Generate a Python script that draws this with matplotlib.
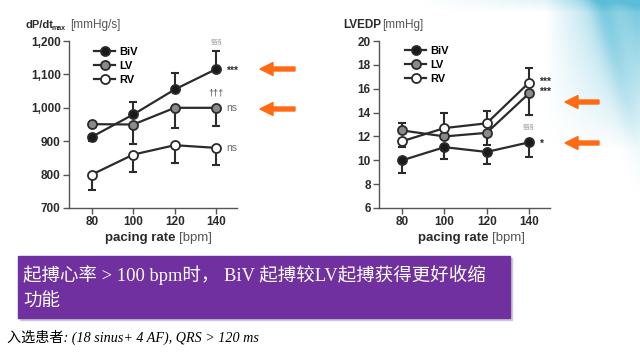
import numpy as np
import matplotlib.pyplot as plt
from matplotlib.patches import FancyArrow, Rectangle

# pacing rates
rates = [80, 100, 120, 140]

# dP/dt max [mmHg/s]
dpdt_biv = [913, 980, 1055, 1116]
dpdt_biv_lo = [12, 0, 0, 0]
dpdt_biv_hi = [0, 36, 50, 54]
dpdt_lv = [951, 950, 1000, 1000]
dpdt_lv_lo = [0, 58, 60, 55]
dpdt_lv_hi = [0, 0, 0, 0]
dpdt_rv = [800, 860, 888, 880]
dpdt_rv_lo = [47, 53, 53, 50]
dpdt_rv_hi = [0, 0, 0, 0]

# LVEDP [mmHg]
edp_biv = [10.0, 11.1, 10.7, 11.5]
edp_biv_lo = [1.1, 1.0, 1.0, 1.2]
edp_biv_hi = [0, 0, 0, 0]
edp_lv = [12.5, 12.0, 12.3, 15.6]
edp_lv_lo = [0, 0, 1.0, 1.8]
edp_lv_hi = [0.6, 0, 0, 0]
edp_rv = [11.6, 12.7, 13.1, 16.5]
edp_rv_lo = [0.5, 0, 0, 0]
edp_rv_hi = [0, 1.3, 1.0, 1.2]

dpdt_ticks = [700, 800, 900, 1000, 1100, 1200]
dpdt_ticklabels = ['700', '800', '900', '1,000', '1,100', '1,200']
edp_ticks = [6, 8, 10, 12, 14, 16, 18, 20]

W, H = 640, 363
fig = plt.figure(figsize=(6.4, 3.63), dpi=100)
fig.patch.set_facecolor('white')

# slide background swoosh (top right)
bg = fig.add_axes([0, 0, 1, 1], zorder=-5)
xx, yy = np.meshgrid(np.arange(W), np.arange(H))
a = np.clip((xx - 545) / 90, 0, 1) * np.clip((150 - yy) / 150, 0, 1)
a = a + 0.35 * np.clip((xx - 420) / 220, 0, 1) * np.clip((12 - yy) / 12, 0, 1)
band = 0.25 * np.exp(-((xx - 600 - 0.25 * yy) / 12.0) ** 2) * np.clip((200 - yy) / 200, 0, 1)
a = np.clip(a * 0.75 + band, 0, 0.85)
img = np.zeros((H, W, 4))
img[..., 0] = 0.25
img[..., 1] = 0.70
img[..., 2] = 0.82
img[..., 3] = a
bg.imshow(img, aspect='auto', extent=[0, W, H, 0])
bg.set_xlim(0, W)
bg.set_ylim(H, 0)
bg.axis('off')

FONT = 'Liberation Sans'
DARK = '#2b2b2b'
GREY = '#6a6a6a'


def px(x, y):
    return x / W, 1 - y / H


def draw_panel(rect, series, ylim, yticks, yticklabels):
    ax = fig.add_axes(rect)
    ax.set_facecolor('none')
    for (vals, lo, hi, face, label) in series:
        ax.errorbar(rates, vals, yerr=[lo, hi], fmt='none', ecolor=DARK,
                    elinewidth=1.5, capsize=3.2, capthick=1.5, zorder=2)
        ax.plot(rates, vals, '-o', color=DARK, lw=1.6, ms=6.5,
                mfc=face, mec=DARK, mew=1.3, label=label, zorder=3)
    ax.set_xlim(69, 150)
    ax.set_ylim(*ylim)
    ax.set_xticks(rates)
    ax.set_yticks(yticks)
    ax.set_yticklabels(yticklabels)
    for s in ['top', 'right']:
        ax.spines[s].set_visible(False)
    for s in ['left', 'bottom']:
        ax.spines[s].set_color('#555555')
        ax.spines[s].set_linewidth(1.0)
    ax.tick_params(length=4, width=1.0, color='#555555', labelsize=8.5,
                   labelcolor=DARK, pad=2)
    for t in ax.get_xticklabels() + ax.get_yticklabels():
        t.set_fontweight('bold')
        t.set_family(FONT)
    return ax


ax1 = draw_panel([69 / W, 1 - 208 / H, 168 / W, 167 / H],
                 [(dpdt_biv, dpdt_biv_lo, dpdt_biv_hi, '#1a1a1a', 'BiV'),
                  (dpdt_lv, dpdt_lv_lo, dpdt_lv_hi, '#8a8a8a', 'LV'),
                  (dpdt_rv, dpdt_rv_lo, dpdt_rv_hi, 'white', 'RV')],
                 (700, 1200), dpdt_ticks, dpdt_ticklabels)
ax2 = draw_panel([379 / W, 1 - 208 / H, 171 / W, 167 / H],
                 [(edp_biv, edp_biv_lo, edp_biv_hi, '#1a1a1a', 'BiV'),
                  (edp_lv, edp_lv_lo, edp_lv_hi, '#8a8a8a', 'LV'),
                  (edp_rv, edp_rv_lo, edp_rv_hi, 'white', 'RV')],
                 (6, 20), edp_ticks, [str(t) for t in edp_ticks])

for ax, (lx, ly) in [(ax1, (94, 47)), (ax2, (405, 46))]:
    ax.legend(loc='upper left', bbox_to_anchor=px(lx, ly),
              bbox_transform=fig.transFigure, frameon=False,
              prop={'family': FONT, 'weight': 'bold', 'size': 8},
              handlelength=1.9, handletextpad=0.35, labelspacing=0.35,
              borderpad=0, borderaxespad=0)


def mark(ax, x, y, s, dx, dy, size=7, color=DARK, weight='bold'):
    ax.annotate(s, (x, y), xytext=(dx, dy), textcoords='offset points',
                ha='left' if dx > 0 else 'center', va='center',
                fontsize=size, color=color, fontweight=weight, family=FONT)


mark(ax1, 140, dpdt_biv[3], '***', 7, -1, size=7.5)
mark(ax1, 140, dpdt_biv[3] + dpdt_biv_hi[3], '§§§', 0, 7, size=5, color='#888888', weight='normal')
mark(ax1, 140, dpdt_lv[3], 'ns', 7, 0, size=7.5, color=GREY, weight='normal')
mark(ax1, 140, dpdt_lv[3], '†††', 0, 11, size=6.5, color='#444444', weight='normal')
mark(ax1, 140, dpdt_rv[3], 'ns', 7, 0, size=7.5, color=GREY, weight='normal')
mark(ax2, 140, edp_rv[3], '***', 7, 1, size=7.5)
mark(ax2, 140, edp_lv[3], '***', 7, 1, size=7.5)
mark(ax2, 140, edp_biv[3], '§§§', 0, 11, size=5, color='#888888', weight='normal')
mark(ax2, 140, edp_biv[3], '*', 7, -1, size=7.5)

# axis titles
fig.text(*px(25, 25), 'dP/dt', fontsize=8, color=DARK, va='center',
         ha='left', family=FONT, fontweight='bold')
fig.text(*px(52, 28), 'max', fontsize=5, color=DARK, va='center', ha='left',
         family=FONT, fontweight='bold')
fig.text(*px(70, 25), '[mmHg/s]', fontsize=8.5, color='#555555', va='center',
         ha='left', family=FONT)
fig.text(*px(343, 25), 'LVEDP', fontsize=8.5, color=DARK, va='center',
         ha='left', family=FONT, fontweight='bold')
fig.text(*px(382, 25), '[mmHg]', fontsize=8.5, color='#555555', va='center',
         ha='left', family=FONT)
for x0 in [105, 418]:
    t = fig.text(*px(x0, 238), 'pacing rate', fontsize=9.5, color=DARK,
                 va='center', ha='left', family=FONT, fontweight='bold')
    fig.add_artist(plt.Annotation('[bpm]', xy=(1, 0.5), xycoords=t,
                                  xytext=(2.5, 0), textcoords='offset points',
                                  va='center', ha='left', fontsize=9.5,
                                  color='#555555', family=FONT))

# orange arrows
for (xa, xb, y) in [(295, 260, 69), (295, 260, 109), (599, 565, 102), (599, 565, 143)]:
    x0, y0 = px(xa, y)
    x1, _ = px(xb, y)
    fig.patches.append(FancyArrow(x0, y0, x1 - x0, 0, width=4 / H,
                                  head_width=13 / H, head_length=13 / W,
                                  length_includes_head=True, color='#ff6a13',
                                  transform=fig.transFigure, figure=fig))

# purple box
bx0, by0 = px(18, 318)
fig.patches.append(Rectangle((bx0 + 2 / W, by0 - 2 / H), 492 / W, 62 / H,
                             transform=fig.transFigure, color='#c9c9d9', zorder=0))
fig.patches.append(Rectangle((bx0, by0), 492 / W, 62 / H,
                             transform=fig.transFigure, color='#7030a0', zorder=1))
CJK = ['Liberation Serif', 'Noto Sans CJK SC']
fig.text(*px(23, 275), '起搏心率 > 100 bpm时， BiV 起搏较LV起搏获得更好收缩',
         fontsize=13.3, color='white', va='center', ha='left', family=CJK)
fig.text(*px(23, 302), '功能', fontsize=13.3, color='white', va='center',
         ha='left', family=CJK)

fig.text(*px(7, 337), '入选患者: (18 sinus+ 4 AF), QRS > 120 ms', fontsize=10.2,
         color='black', va='center', ha='left', family=CJK, style='italic')

fig.savefig('out.png', dpi=100)
